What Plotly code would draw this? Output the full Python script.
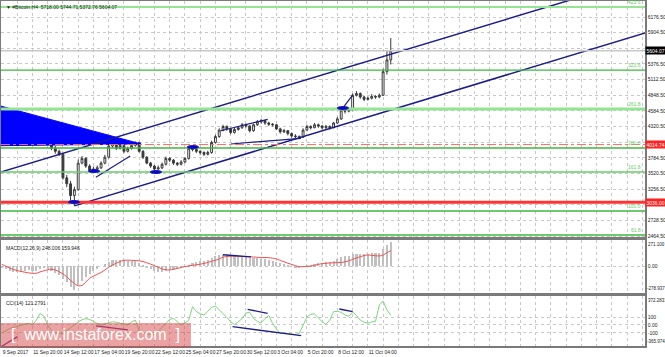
import plotly.graph_objects as go
from plotly.subplots import make_subplots

# ---------------- data (x = 4h bar index from 9 Sep 2017 04:00; candles are 8h) ----------------
candle_idx = list(range(0, 206, 2))

opens = [4300,4280,4330,4250,4150,4100,4200,4280,4220,4300,
         4260,4340,4250,4120,3950,3900,3850,3450,3350,3150,
         3250,3700,3780,3650,3580,3600,3620,3700,3800,3990,
         4050,3950,4000,3900,3950,4000,4050,3900,3800,3700,
         3650,3600,3620,3680,3780,3750,3700,3680,3720,3780,
         3950,3930,3900,3880,3850,3880,4050,4150,4260,4320,
         4280,4220,4270,4300,4350,4330,4250,4350,4400,4420,
         4380,4360,4350,4280,4230,4250,4200,4160,4150,4140,
         4260,4320,4300,4350,4330,4300,4320,4300,4380,4450,
         4600,4580,4600,4850,4880,4820,4780,4800,4830,4820,
         4850,5250,5450]
highs = [4340,4360,4350,4270,4180,4230,4310,4300,4330,4320,
         4380,4360,4270,4140,3990,3930,3870,3500,3400,3300,
         3760,3820,3800,3680,3640,3660,3730,3840,4020,4080,
         4070,4030,4020,3980,4030,4070,4060,3920,3820,3720,
         3670,3660,3710,3810,3800,3770,3720,3750,3800,3980,
         3990,3960,3920,3900,3910,4080,4180,4290,4350,4340,
         4300,4300,4330,4380,4370,4340,4370,4430,4450,4430,
         4400,4380,4360,4300,4280,4260,4220,4190,4170,4290,
         4350,4340,4380,4370,4340,4350,4340,4400,4480,4630,
         4620,4640,4880,4920,4900,4840,4830,4870,4850,4880,
         5300,5600,5820]
lows = [4250,4260,4220,4090,4060,4080,4180,4190,4200,4230,
        4240,4220,4090,3920,3860,3820,3420,3290,3050,2975,
        3230,3680,3620,3560,3540,3570,3600,3680,3780,3960,
        3920,3930,3870,3880,3930,3980,3880,3770,3680,3620,
        3550,3580,3600,3660,3720,3670,3650,3660,3700,3760,
        3900,3870,3840,3820,3830,3860,4030,4130,4240,4250,
        4190,4200,4250,4280,4300,4220,4230,4330,4370,4350,
        4330,4320,4260,4200,4210,4170,4130,4120,4110,4130,
        4240,4270,4290,4300,4270,4280,4270,4290,4360,4430,
        4540,4560,4590,4830,4790,4750,4760,4780,4790,4800,
        4840,5200,5372.76]
closes = [4280,4330,4250,4150,4100,4200,4280,4220,4300,4260,
          4340,4250,4120,3950,3900,3850,3450,3350,3150,3250,
          3700,3780,3650,3580,3600,3620,3700,3800,3990,4050,
          3950,4000,3900,3950,4000,4050,3900,3800,3700,3650,
          3600,3620,3680,3780,3750,3700,3680,3720,3780,3950,
          3930,3900,3880,3850,3880,4050,4150,4260,4320,4280,
          4220,4270,4300,4350,4330,4250,4350,4400,4420,4380,
          4360,4350,4280,4230,4250,4200,4160,4150,4140,4260,
          4320,4300,4350,4330,4300,4320,4300,4380,4450,4600,
          4580,4600,4850,4880,4820,4780,4800,4830,4820,4850,
          5250,5450,5604.07]

macd_hist = [-20,-35,-50,-58,-65,-62,-50,-45,-55,-50,
             -35,-20,-30,-55,-75,-95,-130,-165,-215,-245,
             -200,-150,-110,-80,-50,-25,0,20,45,60,
             65,68,62,55,55,50,35,15,-10,-35,
             -55,-65,-65,-55,-45,-38,-30,-20,-8,15,
             30,40,50,55,65,85,100,112,120,118,
             110,100,95,92,90,85,82,80,78,72,
             62,52,45,35,25,12,0,-12,-15,-5,
             5,12,20,28,35,40,45,55,70,90,
             100,110,125,130,128,125,128,132,135,140,
             175,215,248.006]
macd_signal = [18,0,-20,-35,-46,-55,-63,-70,-75,-74,
               -60,-48,-38,-32,-40,-58,-80,-110,-149,-180,
               -204,-200,-165,-125,-105,-85,-66,-40,-12,12,
               30,48,60,62,60,58,55,48,35,21,
               5,-12,-28,-38,-40,-32,-24,-14,-5,2,
               8,14,20,28,38,50,60,75,92,100,
               103,104,102,100,98,97,95,92,90,90,
               88,82,75,60,45,30,18,5,-5,-6,
               -3,0,8,18,26,30,33,35,37,38,
               45,55,70,85,98,110,116,112,108,106,
               115,140,159.946]
cci = [-100,-70,-45,-30,-15,0,10,20,0,60,
       145,110,0,-70,-104,-100,-110,-70,-30,0,
       40,65,80,70,42,20,0,15,25,40,
       35,22,10,0,40,60,-70,-100,-110,-120,
       -125,-80,-30,30,70,83,40,0,25,60,
       229,170,140,125,170,220,238,190,150,95,
       40,5,40,80,150,160,83,45,25,80,
       120,20,-50,-104,-100,-104,-115,-120,-105,0,
       100,135,140,90,40,10,60,167,170,160,
       125,110,160,120,62,35,22,38,45,250,
       300,188,121.2791]

# x-axis labels (every 16 bars)
x_tick_idx = [0, 16, 32, 48, 64, 80, 96, 112, 128, 144, 160, 176, 192]
x_tick_labels = ["9 Sep 2017", "11 Sep 20:00", "14 Sep 12:00", "17 Sep 04:00", "19 Sep 20:00",
                 "22 Sep 12:00", "25 Sep 04:00", "27 Sep 20:00", "30 Sep 12:00", "3 Oct 04:00",
                 "5 Oct 20:00", "8 Oct 12:00", "11 Oct 04:00"]

# price axis labels (two are hidden behind the price boxes in the reference)
price_ticks = [2464.5 + k * 265.143 for k in range(15)]
price_tick_labels = ["2464.50", "2728.50", "2992.50", "3256.50", "3520.50", "3784.50", "",
                     "4320.50", "4584.50", "4848.50", "5112.50", "5376.50", "", "5904.50", "6176.50"]

# Fibonacci expansion levels
fib_labels = ["61.8", "100.0", "161.8", "200.0", "261.8", "323.6", "423.6"]
fib_prices = [2480, 2888, 3548, 3956, 4616, 5276, 6344]

level_dashdot = 4014.74
level_support = 3036.00

# channel lines (x index, price)
chan_upper_x = [-1, 300]
chan_upper_y = [3544, 6482]
chan_lower_x = [38, 345]
chan_lower_y = [2975, 5980]

# triangle
tri_x = [-1, 73, -1, -1]
tri_y = [4670, 4025, 3995, 4670]

# small trendlines on price
tl_price = [
    ([49.3, 67.3], [3459, 3820]),
    ([114.9, 139.4], [4249, 4442]),
    ([120.1, 156.9], [4024, 4120]),
    ([178.7, 184.0], [4629, 4854]),
]
# marked ellipses (x index, price)
ell_x = [37.8, 48.3, 80.8, 100.2, 178.9]
ell_y = [3041, 3566, 3549, 3973, 4634]

# MACD trendline
tl_macd = ([115.9, 130.7], [118, 97])
# CCI trendlines
tl_cci_navy = [([121.0, 157.0], [-21, -133]), ([128.9, 139.4], [196, 146]), ([177.0, 184.0], [200, 167])]
tl_cci_purple = [([49.3, 66.1], [-12, -62]), ([-0.5, 8.2], [-271, -146])]

title_text = "▼ #Bitcoin,H4  5718.00 5744.71 5372.76 5604.07"
macd_label = "MACD(12,26,9) 248.006 159.946"
cci_label = "CCI(14) 121.2791"

# ---------------- figure ----------------
FONT = "Liberation Sans"
NAVY = "#1C1C8C"
fig = make_subplots(rows=3, cols=1, shared_xaxes=True, vertical_spacing=0.01)

# triangle (filled)
fig.add_trace(go.Scatter(x=tri_x, y=tri_y, fill="toself", fillcolor="#0000FF", mode="lines",
                         line=dict(color="#0000FF", width=1), hoverinfo="skip"), row=1, col=1)

# fib lines
fib_colors = ["#3CB83C", "#3CB83C", "#66CC66", "#3CB83C", "#93E593", "#3CB83C", "#93E593"]
fib_widths = [1.5, 1.3, 1.5, 1.5, 3, 1.3, 2]
for p, c, w in zip(fib_prices, fib_colors, fib_widths):
    fig.add_hline(y=p, line=dict(color=c, width=w), row=1, col=1)
fig.add_hline(y=closes[-1], line=dict(color="#C8C8C8", width=1.5), row=1, col=1)
fig.add_hline(y=level_dashdot, line=dict(color="#FF6A6A", width=1, dash="dashdot"), row=1, col=1)
fig.add_hline(y=level_support, line=dict(color="#FF3333", width=3), row=1, col=1)

# channel
for xs, ys in [(chan_upper_x, chan_upper_y), (chan_lower_x, chan_lower_y)]:
    fig.add_trace(go.Scatter(x=xs, y=ys, mode="lines", line=dict(color=NAVY, width=1.5),
                             hoverinfo="skip"), row=1, col=1)
for xs, ys in tl_price:
    fig.add_trace(go.Scatter(x=xs, y=ys, mode="lines", line=dict(color=NAVY, width=1.2),
                             hoverinfo="skip"), row=1, col=1)

# candles
fig.add_trace(go.Candlestick(x=candle_idx, open=opens, high=highs, low=lows, close=closes,
                             increasing=dict(line=dict(color="#3a3a3a", width=1), fillcolor="#ffffff"),
                             decreasing=dict(line=dict(color="#3a3a3a", width=1), fillcolor="#3a3a3a"),
                             whiskerwidth=0, hoverinfo="skip"), row=1, col=1)

# ellipses
for cx, cy in zip(ell_x, ell_y):
    fig.add_shape(type="circle", xref="x", yref="y", x0=cx - 3.0, x1=cx + 3.0, y0=cy - 25, y1=cy + 25,
                  fillcolor="#0000FF", line=dict(color=NAVY, width=1))

# MACD
fig.add_trace(go.Bar(x=candle_idx, y=macd_hist, marker=dict(color="#C0C0C0", line=dict(width=0)),
                     width=1.1, hoverinfo="skip"), row=2, col=1)
fig.add_trace(go.Scatter(x=candle_idx, y=macd_signal, mode="lines", line=dict(color="#F25050", width=1, shape="spline"),
                         hoverinfo="skip"), row=2, col=1)
fig.add_trace(go.Scatter(x=tl_macd[0], y=tl_macd[1], mode="lines", line=dict(color=NAVY, width=1.3),
                         hoverinfo="skip"), row=2, col=1)

# CCI
fig.add_trace(go.Scatter(x=candle_idx, y=cci, mode="lines", line=dict(color="#7CD67C", width=1),
                         hoverinfo="skip"), row=3, col=1)
for xs, ys in tl_cci_navy:
    fig.add_trace(go.Scatter(x=xs, y=ys, mode="lines", line=dict(color=NAVY, width=1.3),
                             hoverinfo="skip"), row=3, col=1)
for xs, ys in tl_cci_purple:
    fig.add_trace(go.Scatter(x=xs, y=ys, mode="lines", line=dict(color="#7A2A8A", width=1.3),
                             hoverinfo="skip"), row=3, col=1)

# ---------------- axes ----------------
tick_font = dict(family=FONT, size=5, color="#222")
grid = dict(showgrid=True, gridcolor="#C8C8C8", griddash="dot", gridwidth=1)
axline = dict(showline=True, linecolor="#7a7a7a", linewidth=1.5, mirror=True, zeroline=False, automargin=False)

for i in (1, 2, 3):
    fig.update_xaxes(range=[-0.5, 337.4], tickvals=x_tick_idx, ticktext=x_tick_labels, ticks="",
                     minor=dict(dtick=8, tick0=0, showgrid=True, gridcolor="#C8C8C8", griddash="dot"),
                     tickfont=tick_font, ticklabelposition="outside right", tickangle=0,
                     **grid, **axline, row=i, col=1)
fig.update_xaxes(showticklabels=False, row=1, col=1)
fig.update_xaxes(showticklabels=False, row=2, col=1)
fig.update_xaxes(rangeslider_visible=False, row=1, col=1)

fig.update_yaxes(range=[2447.5, 6447.7], tickvals=price_ticks, ticktext=price_tick_labels,
                 side="right", ticks="", tickfont=tick_font, **grid, **axline, row=1, col=1)
fig.update_yaxes(range=[-278.937, 271.1], tickvals=[0], ticktext=["0.00"], side="right", ticks="",
                 tickfont=tick_font, **grid, **axline, row=2, col=1)
fig.update_yaxes(range=[-262.5, 362.5], tickvals=[100, 0, -100], ticktext=["100", "0.00", "-100"],
                 side="right", ticks="", tickfont=tick_font, **grid, **axline, row=3, col=1)

fig.update_layout(
    width=665, height=357,
    margin=dict(l=1, r=20, t=1, b=11, autoexpand=False),
    paper_bgcolor="white", plot_bgcolor="white",
    showlegend=False, hovermode=False,
    yaxis=dict(domain=[0.3159, 1.0]),
    yaxis2=dict(domain=[0.1536, 0.3072]),
    yaxis3=dict(domain=[0.0, 0.1449]),
    bargap=0,
)

# ---------------- annotations ----------------
ann = []
small = dict(family=FONT, size=5, color="#222")
edge = dict(family=FONT, size=4.5, color="#222")
ann.append(dict(text=title_text, xref="paper", yref="y domain", x=0.004, y=0.995, xanchor="left",
                yanchor="top", showarrow=False, font=small))
ann.append(dict(text=macd_label, xref="paper", yref="y2 domain", x=0.004, y=0.95, xanchor="left",
                yanchor="top", showarrow=False, font=small))
ann.append(dict(text=cci_label, xref="paper", yref="y3 domain", x=0.004, y=0.97, xanchor="left",
                yanchor="top", showarrow=False, font=small))
for lbl, p in zip(fib_labels, fib_prices):
    ann.append(dict(text=lbl, xref="paper", yref="y", x=0.997, y=p, xanchor="right", yanchor="bottom",
                    showarrow=False, font=dict(family=FONT, size=5, color="#5FCF5F")))
for val, bg in [(closes[-1], "#000000"), (level_dashdot, "#FF2020"), (level_support, "#FF2020")]:
    ann.append(dict(text=f"{val:.2f}", xref="paper", yref="y", x=1.0, y=val, xanchor="left",
                    yanchor="middle", showarrow=False, bgcolor=bg, borderpad=0.5,
                    font=dict(family=FONT, size=5, color="white")))
for yref, top, bot in [("y2 domain", "271.100", "-278.937"), ("y3 domain", "372.2831", "-365.9743")]:
    ann.append(dict(text=top, xref="paper", yref=yref, x=1.0, y=1.0, xanchor="left", yanchor="top",
                    xshift=1, showarrow=False, font=edge))
    ann.append(dict(text=bot, xref="paper", yref=yref, x=1.0, y=0.0, xanchor="left", yanchor="bottom",
                    xshift=0, showarrow=False, font=edge))
# watermark
ann.append(dict(text="[  www.instaforex.com  ]", xref="paper", yref="paper", x=0.1475, y=0.032,
                xanchor="center", yanchor="middle", showarrow=False,
                font=dict(family="Liberation Sans", size=16, color="white")))
fig.update_layout(annotations=ann)
fig.add_shape(type="rect", xref="paper", yref="paper", x0=0, x1=0.295, y0=-0.004, y1=0.067,
              fillcolor="rgba(215,70,70,0.5)", line=dict(width=0), layer="above")

fig.write_html("out.html", config={"displayModeBar": False},
               post_script="document.body.style.margin='0';")
